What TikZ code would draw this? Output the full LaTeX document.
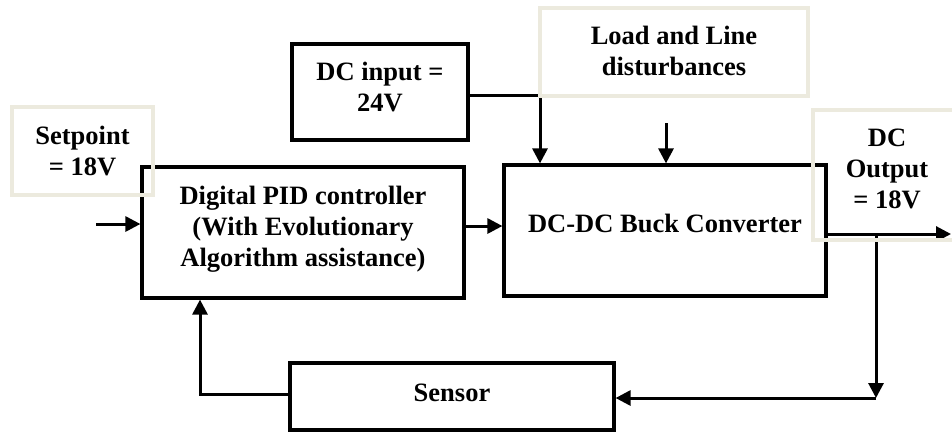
\documentclass[tikz,border=0pt]{standalone}
\usepackage{fontspec}
\setmainfont{Liberation Serif}
\usetikzlibrary{arrows.meta}
\definecolor{lightedge}{RGB}{236,234,222}
\newcommand\mydn[1]{\rule[-#1]{0pt}{#1}}
\begin{document}
\begin{tikzpicture}[x=1pt,y=-1pt,
  every node/.style={font=\fontsize{26.5}{31}\selectfont\bfseries, align=center, inner sep=0pt},
  blk/.style={draw=black, line width=3.2pt, rectangle},
  lightblk/.style={draw=lightedge, line width=3.5pt, rectangle},
  arr/.style={draw=black, line width=3pt, -{Triangle[length=15pt,width=15pt]}}]
\useasboundingbox (0,0) rectangle (952,432);
% main blocks
\node[blk, minimum width=176pt, minimum height=96pt] (dcin) at (380,92) {DC input =\\24V\mydn{10pt}};
\node[blk, minimum width=322pt, minimum height=131pt] (pid) at (303,232.5) {Digital PID controller\\(With Evolutionary\\Algorithm assistance)\mydn{13pt}};
\node[blk, minimum width=322pt, minimum height=131pt] (buck) at (665,230.5) {DC-DC Buck Converter\mydn{14pt}};
\node[blk, minimum width=324pt, minimum height=67pt] (sensor) at (452,396.5) {Sensor\mydn{8pt}};
% connectors
\coordinate (spin) at (96,224);
\draw[arr] (spin) -- (spin -| pid.west);
\draw[arr] ([yshift=6.5pt]pid.east) -- ([yshift=6.5pt]pid.east -| buck.west);
\draw[arr] ([yshift=-3pt]dcin.east) -| ([xshift=-125pt]buck.north);
\coordinate (dist) at (666,123);
\draw[arr] (dist) -- (dist |- buck.north);
\coordinate (outend) at (951,234);
\draw[arr] ([yshift=-3.5pt]buck.east) -- (outend);
\coordinate (branch) at (876,234);
\coordinate (corner) at (876,398);
\draw[arr] (branch) -- (corner);
\draw[arr] (corner) -- (corner -| sensor.east);
\draw[arr] ([yshift=2.5pt]sensor.west) -| ([xshift=-103pt]pid.south);
% light label boxes
\node[lightblk, minimum width=141pt, minimum height=88pt] (setpt) at (82.5,151) {Setpoint\\= 18V};
\node[lightblk, minimum width=268pt, minimum height=88pt] (load) at (674,52) {Load and Line\\disturbances\mydn{3pt}};
\node[lightblk, minimum width=148pt, minimum height=130pt] (dcout) at (887,175) {DC\\Output\\= 18V\mydn{13pt}};
\end{tikzpicture}
\end{document}
